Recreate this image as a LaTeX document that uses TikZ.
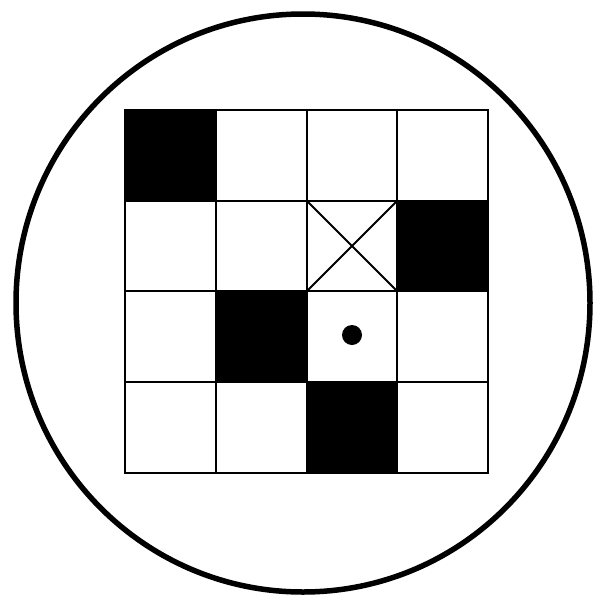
\documentclass[tikz,border=0pt]{standalone}
\begin{document}
\begin{tikzpicture}[x=1pt,y=-1pt,
  gridline/.style={line width=2pt,black},
  blackcell/.style={fill=black},
  rim/.style={line width=5.5pt,black}]
\useasboundingbox (0,0) rectangle (596,600);
% outer circle
\draw[rim] (303,303) ellipse [x radius=287, y radius=289];
% black cells
\def\xa{125}\def\xb{216}\def\xc{307}\def\xd{397}\def\xe{488}
\def\ya{110}\def\yb{201}\def\yc{291}\def\yd{382}\def\ye{473}
\fill[blackcell] (\xa,\ya) rectangle (\xb,\yb);
\fill[blackcell] (\xd,\yb) rectangle (\xe,\yc);
\fill[blackcell] (\xb,\yc) rectangle (\xc,\yd);
\fill[blackcell] (\xc,\yd) rectangle (\xd,\ye);
% grid lines
\foreach \x in {\xa,\xb,\xc,\xd,\xe} \draw[gridline] (\x,\ya) -- (\x,\ye);
\foreach \y in {\ya,\yb,\yc,\yd,\ye} \draw[gridline] (\xa,\y) -- (\xe,\y);
\draw[gridline,line cap=rect] (\xa,\ya) rectangle (\xe,\ye);
% cross
\draw[gridline] (\xc,\yb) -- (\xd,\yc) (\xd,\yb) -- (\xc,\yc);
% dot
\fill (352,335) circle [radius=10];
\end{tikzpicture}
\end{document}
